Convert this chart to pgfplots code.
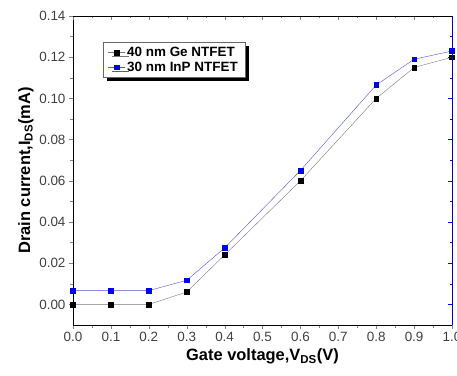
\documentclass[border=0pt]{standalone}
\usepackage{fontspec}
\setmainfont{Liberation Sans}
\usepackage{pgfplots}
\pgfplotsset{compat=1.18}
\usetikzlibrary{shadows}
\definecolor{inpblue}{RGB}{0,0,235}
\definecolor{inpline}{RGB}{80,80,220}
\definecolor{geline}{RGB}{120,120,120}
\begin{document}
\begin{tikzpicture}
\begin{axis}[
  scale only axis,
  width=379bp, height=309bp,
  xmin=0, xmax=1.0, ymin=-0.01, ymax=0.14,
  axis y line*=left, axis x line*=bottom,
  xtick={0,0.1,...,1.0},
  ytick={0,0.02,...,0.14},
  minor x tick num=1, minor y tick num=1,
  tick align=outside,
  major tick length=4bp, minor tick length=2.5bp,
  xticklabel style={/pgf/number format/fixed,/pgf/number format/fixed zerofill,/pgf/number format/precision=1},
  yticklabel style={/pgf/number format/fixed,/pgf/number format/fixed zerofill,/pgf/number format/precision=2},
  /pgf/number format/assume math mode=true,
  ticklabel style={font=\fontsize{13.5}{15}\selectfont, text=black!75},
  scaled y ticks=false,
  xlabel={\textbf{Gate voltage,V\textsubscript{DS}(V)}},
  ylabel={\textbf{Drain current,I\textsubscript{DS}(mA)}},
  label style={font=\fontsize{16.5}{18}\selectfont},
  xlabel style={yshift=0bp},
  ylabel style={yshift=-1bp},
  legend style={at={(0.078,0.915)}, anchor=north west, font=\bfseries\fontsize{13.5}{15}\selectfont,
    draw=black!60, fill=white, drop shadow={shadow xshift=4bp, shadow yshift=-4bp, fill=black, opacity=1},
    row sep=0bp, inner sep=2.5bp, inner xsep=5bp},
  legend cell align=left,
  clip=false,
]
\addplot[geline, thin, mark=square*, mark size=2.4bp, mark options={fill=black, draw=black}]
coordinates {(0,0) (0.1,0) (0.2,0) (0.3,0.006) (0.4,0.024) (0.6,0.060) (0.8,0.100) (0.9,0.115) (1.0,0.120)};
\addlegendentry{40 nm Ge NTFET}
\addplot[inpline, thin, mark=square*, mark size=2.4bp, mark options={fill=inpblue, draw=inpblue}]
coordinates {(0,0.0067) (0.1,0.0067) (0.2,0.0067) (0.3,0.0117) (0.4,0.0274) (0.6,0.0650) (0.8,0.1065) (0.9,0.119) (1.0,0.123)};
\addlegendentry{30 nm InP NTFET}
\end{axis}
\begin{axis}[
  scale only axis,
  width=379bp, height=309bp,
  xmin=0, xmax=1.0, ymin=-0.01, ymax=0.14,
  axis x line*=top, axis y line*=right,
  xtick={0,0.1,...,1.0},
  ytick={0,0.02,...,0.14},
  minor x tick num=1, minor y tick num=1,
  tick align=inside,
  major tick length=4bp, minor tick length=2.5bp,
  xticklabels={}, yticklabels={},
  y axis line style={inpblue},
  y tick style={inpblue},
]
\end{axis}
\pgfresetboundingbox
\path (0,0) ++(-73bp,-51bp) rectangle (379bp+5bp,309bp+16bp);
\end{tikzpicture}
\end{document}
